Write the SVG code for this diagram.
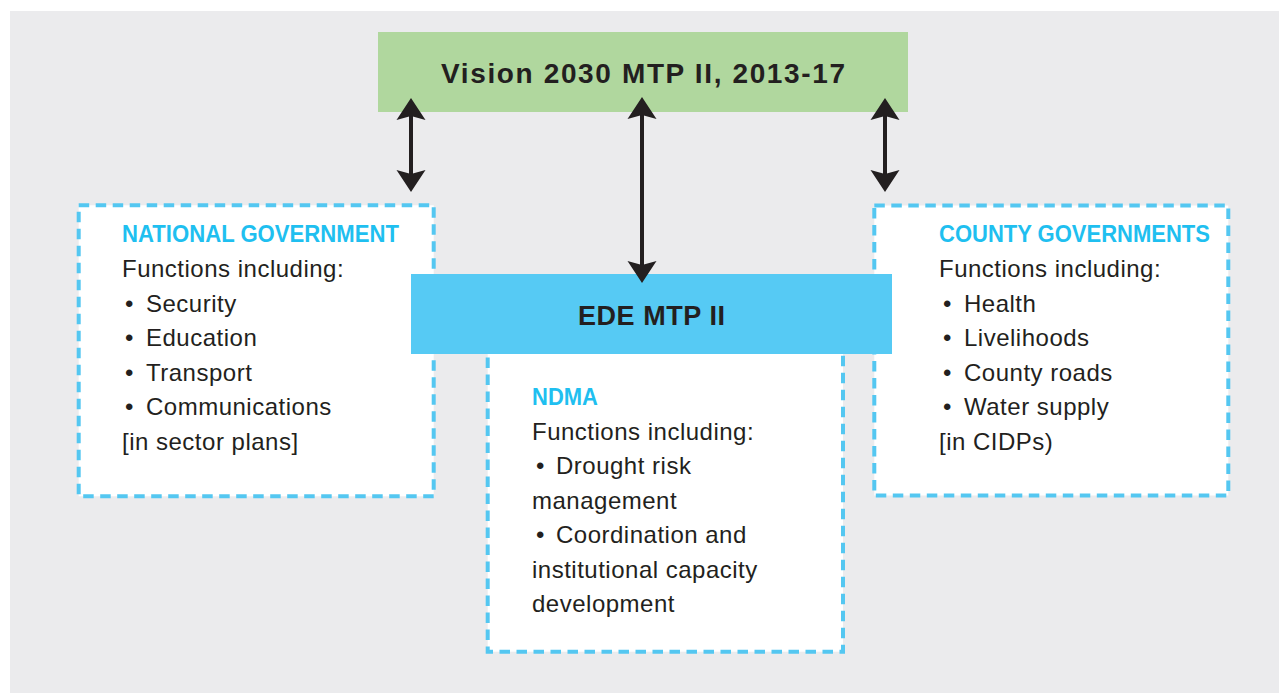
<svg xmlns="http://www.w3.org/2000/svg" width="1279" height="693" viewBox="0 0 1279 693">
  <style>
    .dash { fill: #ffffff; stroke: #54c7f1; stroke-width: 4; stroke-dasharray: 10.5 6.5; }
    .head { font-family: "Liberation Sans", Arial, sans-serif; font-weight: bold; font-size: 23px; fill: #1fbff0; }
    .body { font-family: "Liberation Sans", Arial, sans-serif; font-size: 24px; letter-spacing: 0.5px; fill: #231f20; }
    .title { font-family: "Liberation Sans", Arial, sans-serif; font-weight: bold; fill: #231f20; }
    .conn { stroke: #231f20; stroke-width: 4; fill: none; }
  </style>
  <defs>
    <marker id="ah" viewBox="0 0 22 30" refX="6" refY="15" markerWidth="22" markerHeight="30" markerUnits="userSpaceOnUse" orient="auto-start-reverse">
      <path d="M22,15 L0,0.5 L4,15 L0,29.5 Z" fill="#231f20"/>
    </marker>
  </defs>

  <rect x="10" y="11" width="1269" height="682" fill="#ebebed"/>

  <g id="vision">
    <rect x="378" y="32" width="530" height="80" fill="#b0d79e"/>
    <text class="title" x="643" y="83" font-size="28" text-anchor="middle" textLength="404" lengthAdjust="spacing">Vision 2030 MTP II, 2013-17</text>
  </g>

  <g id="national">
    <rect class="dash" x="78.7" y="205.3" width="355" height="291"/>
    <text class="head" x="122" y="242" textLength="277" lengthAdjust="spacingAndGlyphs">NATIONAL GOVERNMENT</text>
    <text class="body" x="122" y="277">Functions including:</text>
    <text class="body" x="125" y="311.5">•<tspan x="146">Security</tspan></text>
    <text class="body" x="125" y="346">•<tspan x="146">Education</tspan></text>
    <text class="body" x="125" y="380.5">•<tspan x="146">Transport</tspan></text>
    <text class="body" x="125" y="415">•<tspan x="146">Communications</tspan></text>
    <text class="body" x="122" y="449.5">[in sector plans]</text>
  </g>

  <g id="county">
    <rect class="dash" x="874.3" y="205.5" width="354" height="290"/>
    <text class="head" x="939" y="242" textLength="271" lengthAdjust="spacingAndGlyphs">COUNTY GOVERNMENTS</text>
    <text class="body" x="939" y="277">Functions including:</text>
    <text class="body" x="943" y="311.5">•<tspan x="964">Health</tspan></text>
    <text class="body" x="943" y="346">•<tspan x="964">Livelihoods</tspan></text>
    <text class="body" x="943" y="380.5">•<tspan x="964">County roads</tspan></text>
    <text class="body" x="943" y="415">•<tspan x="964">Water supply</tspan></text>
    <text class="body" x="939" y="449.5">[in CIDPs)</text>
  </g>

  <g id="ndma">
    <rect class="dash" x="487.7" y="320" width="355.3" height="331.7"/>
    <text class="head" x="532" y="405" textLength="66" lengthAdjust="spacingAndGlyphs">NDMA</text>
    <text class="body" x="532" y="439.5">Functions including:</text>
    <text class="body" x="536" y="474">•<tspan x="556">Drought risk</tspan></text>
    <text class="body" x="532" y="508.5">management</text>
    <text class="body" x="536" y="543">•<tspan x="556">Coordination and</tspan></text>
    <text class="body" x="532" y="577.5">institutional capacity</text>
    <text class="body" x="532" y="612">development</text>
  </g>

  <g id="ede">
    <rect x="411" y="274" width="481" height="80" fill="#56caf4"/>
    <text class="title" x="651.5" y="325" font-size="27" text-anchor="middle" textLength="147" lengthAdjust="spacing">EDE MTP II</text>
  </g>

  <g id="connectors">
    <line class="conn" x1="411" y1="114" x2="411" y2="176" marker-start="url(#ah)" marker-end="url(#ah)"/>
    <line class="conn" x1="642" y1="113" x2="642" y2="267" marker-start="url(#ah)" marker-end="url(#ah)"/>
    <line class="conn" x1="885" y1="114" x2="885" y2="176" marker-start="url(#ah)" marker-end="url(#ah)"/>
  </g>
</svg>
